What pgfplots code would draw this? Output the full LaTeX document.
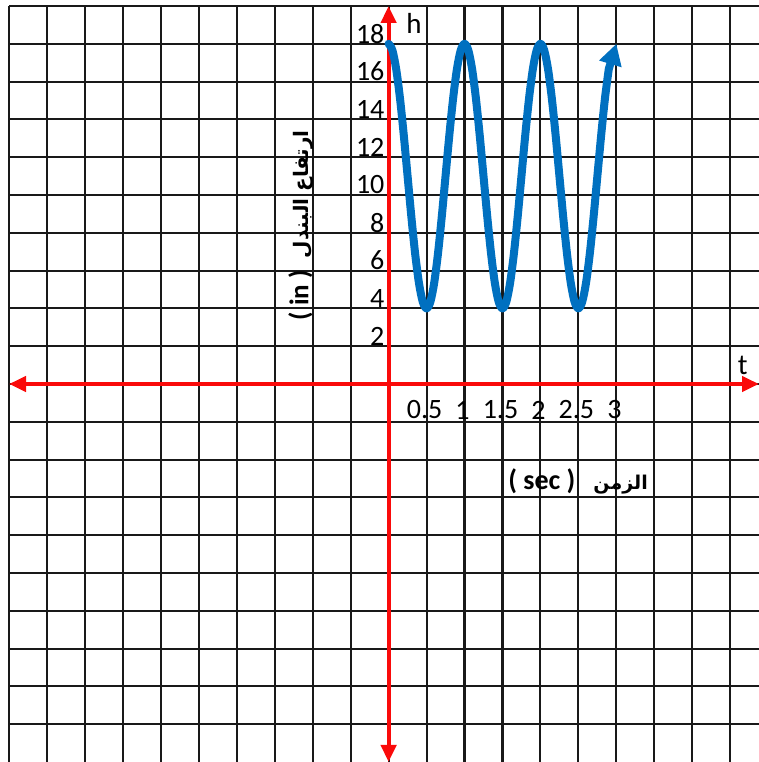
\documentclass[border=0pt]{standalone}
\usepackage{fontspec}
\setmainfont{Carlito}
\newfontfamily\arabicfont[Script=Arabic]{DejaVu Sans}
\TeXXeTstate=1
\usepackage{pgfplots}
\pgfplotsset{compat=1.18}
\usetikzlibrary{arrows.meta}

\definecolor{curveblue}{RGB}{0,112,192}
\definecolor{axisred}{RGB}{250,10,10}
\definecolor{gridgray}{RGB}{25,25,25}

\tikzset{
  redtip/.tip={Triangle[length=17pt,width=15pt]},
  bluetip/.tip={Triangle[length=21pt,width=22pt]},
}

\begin{document}
\begin{tikzpicture}
\begin{axis}[
  scale only axis,
  width=750pt, height=756pt,
  xmin=-5, xmax=4.879,
  ymin=-20, ymax=20,
  axis lines=center,
  axis line style={axisred, line width=4.2pt},
  every inner x axis line/.append style={redtip-redtip},
  every inner y axis line/.append style={redtip-redtip},
  xtick={0.5,1,...,3},
  ytick={2,4,...,18},
  minor xtick={-5,-4.5,...,4.5},
  minor ytick={-18,-16,...,20},
  grid=both,
  grid style={gridgray, line width=2.1pt},
  major tick length=0pt, minor tick length=0pt,
  tick style={draw=none},
  /pgf/number format/assume math mode=true,
  ticklabel style={font=\fontsize{28}{28}\selectfont, inner sep=0pt},
  x tick label style={anchor=center, xshift=-2pt, yshift=-26pt},
  y tick label style={anchor=east, xshift=-4pt, yshift=10pt},
  clip=false,
]
% displacement of the pendulum, one full swing per second
\addplot[curveblue, line width=8pt, smooth, mark=none, line cap=round, line join=round] table {
t h
0 18
0.05 17.657
0.1 16.663
0.15 15.115
0.2 13.163
0.25 11
0.3 8.837
0.35 6.885
0.4 5.337
0.45 4.343
0.5 4
0.55 4.343
0.6 5.337
0.65 6.885
0.7 8.837
0.75 11
0.8 13.163
0.85 15.115
0.9 16.663
0.95 17.657
1 18
1.05 17.657
1.1 16.663
1.15 15.115
1.2 13.163
1.25 11
1.3 8.837
1.35 6.885
1.4 5.337
1.45 4.343
1.5 4
1.55 4.343
1.6 5.337
1.65 6.885
1.7 8.837
1.75 11
1.8 13.163
1.85 15.115
1.9 16.663
1.95 17.657
2 18
2.05 17.657
2.1 16.663
2.15 15.115
2.2 13.163
2.25 11
2.3 8.837
2.35 6.885
2.4 5.337
2.45 4.343
2.5 4
2.55 4.343
2.6 5.337
2.65 6.885
2.7 8.837
2.75 11
2.8 13.163
2.85 15.115
2.9 16.663
};
% last stretch ending in the arrow head
\addplot[curveblue, line width=8pt, mark=none, -bluetip] table {
t h
2.9 16.663
3 18
};

\node[font=\fontsize{29}{29}\selectfont] at (axis cs:0.336,19.1) {h};
\node[font=\fontsize{29}{29}\selectfont] at (axis cs:4.663,1.0) {t};

\node[rotate=90, inner sep=0pt] at (axis cs:-1.157,8.4)
  {{\fontsize{27}{27}\selectfont\bfseries ( in )}\hspace{12pt}{\arabicfont\fontsize{20}{20}\selectfont\bfseries\beginR ارتفاع البندل\endR}};
\node[inner sep=0pt] at (axis cs:2.496,-5.13)
  {{\fontsize{28}{28}\selectfont\bfseries ( sec )}\hspace{18pt}{\arabicfont\fontsize{19}{19}\selectfont\bfseries\beginR الزمن\endR}};

\coordinate (bl) at (axis cs:-5,-20);
\coordinate (tr) at (axis cs:4.879,20);
\end{axis}
\pgfresetboundingbox
\path[use as bounding box] ([xshift=-9pt]bl) rectangle ([yshift=6pt]tr);
\end{tikzpicture}
\end{document}
